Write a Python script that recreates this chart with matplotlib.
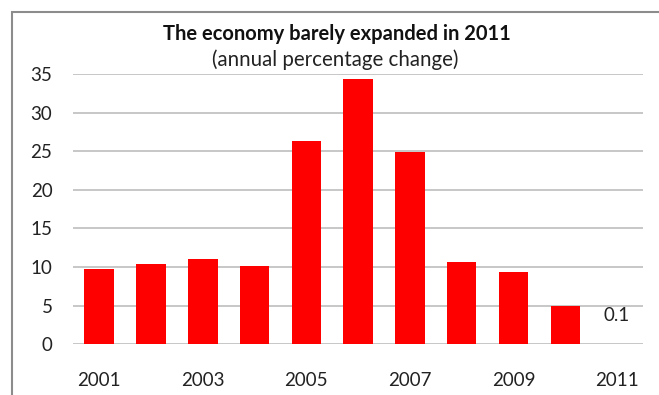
import numpy as np
import matplotlib.pyplot as plt
from matplotlib.patches import Rectangle

years = [2001, 2002, 2003, 2004, 2005, 2006, 2007, 2008, 2009, 2010, 2011]
growth = [9.7, 10.4, 11.1, 10.1, 26.3, 34.4, 24.9, 10.7, 9.3, 5.0, 0.1]
tick_years = [2001, 2003, 2005, 2007, 2009, 2011]
yticks = [0, 5, 10, 15, 20, 25, 30, 35]

plt.rcParams['font.family'] = ['Lato', 'DejaVu Sans']

fig = plt.figure(figsize=(6.59, 3.95), dpi=100)
ax = fig.add_axes([0.1112, 0.1284, 0.8645, 0.6843])

x = np.arange(len(years))
ax.bar(x, growth, width=0.57, color='#ff0000', zorder=3)

# only the last bar gets a label
ax.annotate('0.1', (x[-1], growth[-1]), xytext=(0, 14), textcoords='offset points',
            ha='center', va='bottom', fontsize=13.5, color='#222222')

ax.set_xlim(-0.5, len(years) - 0.5)
ax.set_ylim(0, 35)
ax.set_yticks(yticks)
ax.set_xticks([years.index(y) for y in tick_years])
ax.set_xticklabels([str(y) for y in tick_years])
ax.yaxis.grid(True, color='#b8b8b8', linewidth=1.1, zorder=0)
ax.set_axisbelow(True)
for s in ax.spines.values():
    s.set_visible(False)
ax.tick_params(axis='both', length=0, labelsize=13.5, colors='#222222')
ax.tick_params(axis='y', pad=15)
ax.tick_params(axis='x', pad=20)

fig.text(0.511, 0.915, 'The economy barely expanded in 2011', ha='center', va='center',
         fontsize=14.5, fontweight='bold', color='#111111')
fig.text(0.509, 0.85, '(annual percentage change)', ha='center', va='center',
         fontsize=14.8, color='#222222')

# chart frame, running off the right and bottom edges
fig.patches.append(Rectangle((12 / 659, -0.1), 1.2, 0.1 + 1 - 12 / 395,
                             transform=fig.transFigure, fill=False,
                             edgecolor='#8c8c8c', linewidth=1.5))

fig.savefig('out.png', dpi=100)
